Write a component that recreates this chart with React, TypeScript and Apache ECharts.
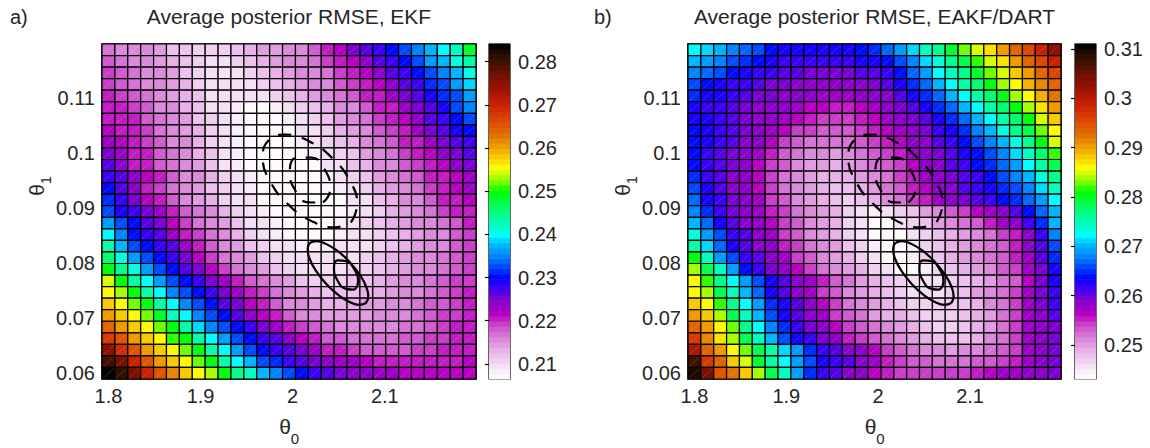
import React, { useEffect, useRef } from "react";
import * as echarts from "echarts";

// ---------------- DATA ----------------
const theta0 = [1.8, 1.814, 1.828, 1.842, 1.856, 1.87, 1.884, 1.898, 1.912, 1.926, 1.94, 1.954, 1.968, 1.982, 1.996, 2.01, 2.024, 2.038, 2.052, 2.066, 2.08, 2.094, 2.108, 2.122, 2.136, 2.15, 2.164, 2.178, 2.192];
// bottom -> top
const theta1 = [0.06, 0.0621, 0.0642, 0.0663, 0.0684, 0.0705, 0.0726, 0.0747, 0.0768, 0.0789, 0.081, 0.0831, 0.0852, 0.0873, 0.0894, 0.0915, 0.0936, 0.0957, 0.0978, 0.0999, 0.102, 0.1041, 0.1062, 0.1083, 0.1104, 0.1125, 0.1146, 0.1167, 0.1188];

// RMSE x 1000, rows from top (theta1 = 0.1188) to bottom (theta1 = 0.06), columns theta0 ascending
const rmseEKF = [
  [217,216,215,215,214,212,212,211,211,211,212,213,214,214,215,216,218,220,222,225,226,228,230,232,235,238,240,242,248],
  [218,217,216,215,214,213,212,211,210,210,211,212,213,214,215,216,217,219,220,222,224,226,228,230,233,236,238,241,244],
  [219,218,217,216,215,214,212,211,210,210,210,211,212,213,214,215,216,217,219,221,222,224,226,228,230,233,235,238,241],
  [219,218,217,216,215,214,213,211,210,209,209,210,211,212,213,214,215,216,218,219,221,222,224,226,228,231,233,236,239],
  [220,219,218,217,216,214,213,212,210,209,209,209,210,211,212,213,214,215,217,218,220,221,223,225,227,229,231,233,236],
  [221,220,219,218,216,215,213,212,210,209,208,207,207,208,209,211,212,213,215,216,218,220,221,223,225,227,229,232,235],
  [221,221,220,218,217,215,214,212,211,209,208,207,207,207,208,210,211,212,214,215,217,219,220,222,224,226,228,230,232],
  [222,221,220,219,217,216,214,213,211,210,208,207,207,207,207,209,210,211,213,214,216,218,219,221,223,225,227,229,230],
  [223,222,221,219,218,216,215,213,211,210,208,207,207,207,207,208,209,211,212,213,215,217,218,220,221,223,225,227,228],
  [225,223,221,220,218,217,215,213,212,210,208,207,207,207,207,207,208,210,211,212,214,216,217,219,220,222,224,225,227],
  [226,224,221,220,218,217,215,214,212,210,208,207,207,207,207,207,207,209,210,212,213,215,216,218,219,221,222,224,225],
  [228,226,224,222,220,218,216,215,213,211,209,208,207,207,207,207,207,208,209,211,212,214,215,217,218,220,221,222,223],
  [230,226,224,221,219,217,216,214,212,211,210,208,207,207,207,207,207,207,208,210,211,213,214,216,217,219,221,222,223],
  [231,228,225,222,220,218,216,214,213,211,210,209,207,207,207,207,207,207,207,209,210,212,213,215,216,218,220,221,222],
  [232,229,228,225,223,221,218,217,216,213,211,209,208,207,207,207,207,207,207,208,209,211,213,214,216,217,219,220,221],
  [236,233,230,227,225,222,219,217,216,214,212,210,209,208,207,207,207,207,208,210,211,212,213,214,215,216,217,218,220],
  [240,235,230,228,226,223,221,219,217,215,213,211,209,208,207,207,207,207,208,209,210,211,212,213,214,215,216,218,219],
  [243,238,233,230,228,226,223,220,218,216,214,212,211,210,209,208,208,208,209,209,210,211,212,213,214,215,216,218,219],
  [246,241,236,233,230,228,225,222,219,217,215,214,212,211,210,209,209,209,210,210,211,212,213,214,215,216,217,218,219],
  [250,245,241,236,233,230,227,225,222,219,217,215,214,212,211,210,210,210,210,211,211,212,213,214,215,216,217,218,219],
  [254,250,243,240,236,233,230,228,225,223,220,218,217,215,214,212,211,211,211,212,212,213,214,215,216,217,218,219,219],
  [256,253,250,243,240,235,233,230,228,225,223,221,219,217,215,214,213,212,212,212,213,213,214,215,216,217,218,219,220],
  [258,255,252,250,243,240,235,232,230,227,225,222,220,218,216,215,214,213,213,213,214,214,215,216,217,218,218,219,220],
  [261,258,255,252,248,242,240,235,232,230,227,224,222,220,218,216,215,214,214,214,214,215,215,216,217,218,219,219,220],
  [264,261,258,255,252,249,243,239,235,233,230,228,225,223,221,219,218,217,216,216,216,216,216,217,217,218,219,220,221],
  [268,265,261,258,255,251,249,243,240,236,233,230,228,226,224,222,220,218,218,217,217,217,217,218,218,219,219,220,221],
  [275,269,265,261,258,255,252,250,243,240,236,233,230,228,227,225,223,221,220,219,218,218,218,218,219,219,220,220,221],
  [280,276,270,265,261,258,255,252,250,244,240,237,233,231,228,227,225,224,223,223,222,221,220,220,220,220,221,221,222],
  [284,281,276,270,265,262,258,255,253,250,245,242,238,235,233,230,228,227,225,224,224,223,223,222,222,222,222,222,222],
];

const rmseDART = [
  [272,271,270,268,267,266,264,263,263,263,263,263,263,264,265,267,269,271,274,277,280,283,285,287,290,293,296,299,303],
  [270,269,268,266,265,264,263,262,262,262,262,262,262,263,263,264,266,268,271,273,276,279,282,285,287,290,293,296,299],
  [268,267,266,264,263,262,262,261,261,260,260,260,260,261,261,262,264,267,269,272,274,277,280,283,285,288,290,293,296],
  [266,264,263,262,262,261,260,260,259,258,258,258,259,259,260,261,263,265,267,270,272,275,278,281,284,286,289,291,294],
  [265,263,263,262,261,260,260,259,258,258,257,257,257,258,258,259,261,263,265,267,270,272,275,278,281,284,286,289,292],
  [263,262,262,261,260,259,258,258,257,256,256,255,255,256,257,258,260,261,263,265,267,270,272,275,278,281,284,287,290],
  [263,263,262,261,260,259,258,257,256,255,254,254,254,255,256,257,258,260,261,263,265,267,270,272,275,278,281,285,288],
  [264,263,262,261,260,259,257,256,254,254,253,253,253,254,255,256,257,259,260,262,263,265,268,270,273,276,279,283,286],
  [264,263,262,261,259,258,256,254,253,252,252,252,252,253,254,255,256,258,259,261,262,264,266,268,270,273,277,281,285],
  [264,262,261,260,258,257,255,253,252,251,251,250,251,252,253,254,255,257,258,260,261,263,264,266,268,271,274,278,282],
  [264,262,261,260,258,256,254,253,251,250,250,249,250,251,252,253,254,256,258,259,261,262,264,265,267,269,272,275,279],
  [265,262,261,259,258,256,254,252,251,250,249,249,249,250,251,252,254,255,257,258,260,261,262,264,266,268,270,273,277],
  [266,263,261,259,258,256,254,252,251,250,249,248,248,249,250,252,253,255,256,258,259,261,262,263,265,266,268,271,274],
  [267,263,262,260,258,257,254,253,251,250,249,248,247,248,249,251,252,254,255,257,258,260,261,262,264,265,267,269,272],
  [268,265,262,260,258,257,255,254,252,251,250,249,247,246,245,246,247,248,250,251,253,254,256,257,259,261,264,267,270],
  [270,267,263,261,259,258,256,254,253,251,250,249,247,246,243,243,246,247,248,250,251,252,253,255,257,259,262,265,270],
  [273,269,266,262,261,259,257,254,253,251,250,249,247,246,243,243,243,246,247,248,249,250,251,252,254,255,258,262,268],
  [275,271,267,263,261,259,258,255,254,252,251,250,248,247,245,243,243,245,247,248,249,250,251,252,253,255,258,261,266],
  [281,274,269,266,262,261,259,257,254,253,251,250,249,247,246,243,243,245,247,248,249,250,251,252,253,255,257,261,265],
  [284,279,274,269,264,262,260,258,256,254,252,251,250,249,247,246,244,244,245,247,248,249,250,251,253,254,257,260,263],
  [286,282,276,272,269,266,263,261,259,257,255,253,252,250,249,248,247,246,246,246,247,248,249,250,252,253,256,260,263],
  [286,284,279,274,270,267,263,261,259,257,254,253,251,250,249,248,247,246,246,246,247,248,250,251,252,254,257,260,262],
  [288,286,282,276,272,269,265,263,261,259,256,254,252,251,250,249,248,247,247,247,247,248,249,251,252,254,257,260,262],
  [290,288,284,279,274,270,266,263,261,259,257,254,253,252,250,249,249,248,247,247,247,248,249,250,252,254,257,259,261],
  [293,290,286,283,277,272,268,265,262,260,258,256,254,253,252,251,250,249,248,247,247,248,249,250,252,254,257,259,260],
  [297,291,287,284,279,274,270,266,263,262,260,258,255,254,253,252,251,250,249,248,248,248,249,251,252,254,257,259,260],
  [301,294,290,286,283,279,275,271,269,265,262,261,259,258,256,254,253,252,251,251,250,251,251,252,253,254,257,258,260],
  [307,297,293,288,285,280,275,272,269,266,263,262,261,259,257,255,254,253,253,252,252,252,253,253,254,255,257,259,260],
  [309,304,295,292,288,284,279,274,269,265,262,261,259,258,256,255,254,254,254,254,254,254,255,256,257,257,259,259,260],
];

const ekfRange = [0.2065, 0.2841];
const dartRange = [0.2431, 0.311];
const ekfTicks = [0.21, 0.22, 0.23, 0.24, 0.25, 0.26, 0.27, 0.28];
const dartTicks = [0.25, 0.26, 0.27, 0.28, 0.29, 0.3, 0.31];
const xTicks = [1.8, 1.9, 2.0, 2.1];
const yTicks = [0.06, 0.07, 0.08, 0.09, 0.1, 0.11];

// posterior contours (theta0, theta1)
const dashedOuter = [
  [2.0641, 0.08762], [2.07, 0.09069], [2.0624, 0.09489], [2.0429, 0.09912], [2.0171, 0.10223], [1.9917, 0.10338],
  [1.9735, 0.10227], [1.9676, 0.0992], [1.9752, 0.095], [1.9947, 0.09076], [2.0205, 0.08765], [2.0459, 0.08651], [2.0641, 0.08762],
];
const dashedInner = [
  [2.0329, 0.09103], [2.0407, 0.0934], [2.0357, 0.09676], [2.0208, 0.09918], [2.0047, 0.09922], [1.9969, 0.09685],
  [2.0019, 0.09349], [2.0169, 0.09107], [2.0329, 0.09103],
];
const solidOuter = [
  [2.0796, 0.07276], [2.0821, 0.07395], [2.0797, 0.07576], [2.0725, 0.07796], [2.0619, 0.0802], [2.0493, 0.08215],
  [2.0367, 0.08347], [2.0261, 0.08402], [2.0188, 0.08367], [2.0163, 0.08249], [2.0187, 0.08067], [2.0259, 0.07847],
  [2.0365, 0.07624], [2.0491, 0.07429], [2.0617, 0.07296], [2.0723, 0.07242], [2.0796, 0.07276],
];
const solidInner = [
  [2.0671, 0.07518], [2.071, 0.0766], [2.0673, 0.07876], [2.058, 0.08038], [2.0487, 0.08053], [2.0448, 0.07911],
  [2.0484, 0.07695], [2.0578, 0.07533], [2.0671, 0.07518],
];

// ---------------- STYLE ----------------
const colormapStops: [number, string][] = [
  [0.0, "#ffffff"], [0.025, "#f8ecf8"], [0.05, "#f0d4f0"], [0.075, "#ecbcec"], [0.095, "#e4a4e4"], [0.115, "#dc8cdc"],
  [0.135, "#d470d4"], [0.155, "#cc50cc"], [0.175, "#c428c4"], [0.19, "#c000c0"], [0.21, "#a000c8"], [0.24, "#8000d0"], [0.26, "#5000e8"],
  [0.28, "#3000ff"], [0.3, "#0000ff"], [0.33, "#0040ff"], [0.365, "#0080ff"], [0.4, "#00b8ff"], [0.43, "#00ffff"],
  [0.46, "#00ffc0"], [0.5, "#00ff80"], [0.56, "#00ff00"], [0.59, "#80ff00"], [0.61, "#c0ff00"], [0.63, "#ffff00"],
  [0.66, "#f8d000"], [0.69, "#f0a000"], [0.73, "#e07000"], [0.77, "#e04800"], [0.82, "#c82000"], [0.88, "#901000"],
  [0.92, "#601000"], [0.96, "#301000"], [1.0, "#000000"],
];
const LEVELS = 64;
const FONT = "'Liberation Sans', Arial, Helvetica, sans-serif";
const TXT = "#262626";

function hexToRgb(h: string) {
  return [parseInt(h.slice(1, 3), 16), parseInt(h.slice(3, 5), 16), parseInt(h.slice(5, 7), 16)];
}
function sampleMap(f: number) {
  for (let i = 1; i < colormapStops.length; i++) {
    const [f1, c1] = colormapStops[i];
    const [f0, c0] = colormapStops[i - 1];
    if (f <= f1) {
      const t = (f - f0) / (f1 - f0);
      const a = hexToRgb(c0), b = hexToRgb(c1);
      return `rgb(${a.map((v, k) => Math.round(v + (b[k] - v) * t)).join(",")})`;
    }
  }
  return "#000";
}
const lut: string[] = [];
for (let k = 0; k < LEVELS; k++) lut.push(sampleMap((k + 0.5) / LEVELS));
function colorFor(v: number, range: number[]) {
  const f = (v - range[0]) / (range[1] - range[0]);
  const k = Math.max(0, Math.min(LEVELS - 1, Math.floor(f * LEVELS)));
  return lut[k];
}

const dx = theta0[1] - theta0[0];
const dy = theta1[1] - theta1[0];
const xMin = theta0[0] - dx / 2;
const xMax = theta0[theta0.length - 1] + dx / 2;
const yMin = theta1[0] - dy / 2;
const yMax = theta1[theta1.length - 1] + dy / 2;
const fmt = (v: any) => String(+Number(v).toFixed(2));

function cellData(rows: number[][]) {
  const out: number[][] = [];
  const n = rows.length;
  rows.forEach((row, r) => row.forEach((v, c) => out.push([theta0[c], theta1[n - 1 - r], v / 1000])));
  return out;
}

function buildPanel(i: number, cfg: any) {
  const gPlot = i * 2, gBar = i * 2 + 1;
  const grids = [
    { left: cfg.plotLeft, top: 44, width: cfg.plotWidth, height: 335, show: true, borderColor: "#000", borderWidth: 1.5, backgroundColor: "transparent" },
    { left: cfg.barLeft, top: 44, width: 21, height: 335, show: true, borderColor: "#000", borderWidth: 1.2, backgroundColor: "transparent" },
  ];
  const label = { fontSize: 20, color: TXT, fontFamily: FONT };
  const xAxes = [
    {
      type: "value", gridIndex: gPlot, min: xMin, max: xMax,
      axisLine: { show: false }, splitLine: { show: false },
      axisTick: { show: true, inside: true, length: 5, customValues: xTicks, lineStyle: { color: "#000" } },
      axisLabel: { ...label, margin: 7, customValues: xTicks, formatter: fmt },
    },
    { type: "value", gridIndex: gBar, min: 0, max: 1, show: false },
  ];
  const yAxes = [
    {
      type: "value", gridIndex: gPlot, min: yMin, max: yMax,
      axisLine: { show: false }, splitLine: { show: false },
      axisTick: { show: true, inside: true, length: 5, customValues: yTicks, lineStyle: { color: "#000" } },
      axisLabel: { ...label, margin: 7, customValues: yTicks, formatter: fmt },
    },
    {
      type: "value", gridIndex: gBar, min: cfg.range[0], max: cfg.range[1], position: "right",
      axisLine: { show: false }, splitLine: { show: false },
      axisTick: { show: true, inside: true, length: 4, customValues: cfg.ticks, lineStyle: { color: "#000", width: 1.2 } },
      axisLabel: { ...label, margin: 8, customValues: cfg.ticks, formatter: fmt },
    },
    {
      type: "value", gridIndex: gBar, min: cfg.range[0], max: cfg.range[1], position: "left",
      axisLine: { show: false }, splitLine: { show: false },
      axisTick: { show: true, inside: true, length: 4, customValues: cfg.ticks, lineStyle: { color: "#000", width: 1.2 } },
      axisLabel: { show: false },
    },
  ];
  const xi = i * 2, yi = i * 3;
  const series: any[] = [
    {
      type: "custom", xAxisIndex: xi, yAxisIndex: yi, silent: true, z: 2,
      data: cellData(cfg.values), encode: { x: 0, y: 1 },
      renderItem: (_p: any, api: any) => {
        const x = api.value(0), y = api.value(1), v = api.value(2);
        const p0 = api.coord([x - dx / 2, y + dy / 2]);
        const p1 = api.coord([x + dx / 2, y - dy / 2]);
        return {
          type: "group",
          children: [
            { type: "rect", shape: { x: p0[0], y: p0[1], width: p1[0] - p0[0], height: p1[1] - p0[1] }, style: { fill: colorFor(v, cfg.range), stroke: "#000", lineWidth: 1.2 } },
            { type: "line", shape: { x1: p0[0] + 1.2, y1: p1[1] - 1.2, x2: p1[0] - 1.2, y2: p0[1] + 1.2 }, style: { stroke: "rgba(255,255,255,0.28)", lineWidth: 0.5 } },
          ],
        };
      },
    },
    {
      type: "custom", xAxisIndex: xi + 1, yAxisIndex: yi + 1, silent: true, z: 2,
      data: lut.map((_, k) => [k]),
      renderItem: (_p: any, api: any) => {
        const k = api.value(0);
        const step = (cfg.range[1] - cfg.range[0]) / LEVELS;
        const a = api.coord([0, cfg.range[0] + (k + 1) * step]);
        const b = api.coord([1, cfg.range[0] + k * step]);
        return { type: "rect", shape: { x: a[0], y: a[1] - 0.3, width: b[0] - a[0], height: b[1] - a[1] + 0.6 }, style: { fill: lut[k] } };
      },
    },
  ];
  const lineSer = (d: number[][], dashed: boolean) => ({
    type: "line", xAxisIndex: xi, yAxisIndex: yi, data: d, smooth: 0.5, showSymbol: false, silent: true, z: 5,
    lineStyle: { color: "#000", width: 2.2, type: dashed ? [13, 11] : "solid" },
  });
  series.push(lineSer(dashedOuter, true), lineSer(dashedInner, true), lineSer(solidOuter, false), lineSer(solidInner, false));

  const cx = cfg.plotLeft + cfg.plotWidth / 2;
  const t = (text: string, x: number, y: number, size: number, align = "center", rot = 0) => ({
    type: "text", x, y, rotation: rot, silent: true,
    style: { text, fontSize: size, fontFamily: FONT, fill: TXT, align, verticalAlign: "middle", textAlign: align, textVerticalAlign: "middle" },
  });
  const graphics = [
    t(cfg.letter, cfg.letterX, 17, 20, "left"),
    t(cfg.title, cx, 16, 21, "center"),
    t("θ", cx - 4, 426, 21, "center"),
    t("0", cx + 6, 438, 15, "center"),
    t("θ", cfg.plotLeft - 66, 190, 21, "center", Math.PI / 2),
    t("1", cfg.plotLeft - 57, 180, 15, "center", Math.PI / 2),
  ];
  return { grids, xAxes, yAxes, series, graphics };
}

const panels = [
  buildPanel(0, { plotLeft: 102, plotWidth: 374, barLeft: 489, values: rmseEKF, range: ekfRange, ticks: ekfTicks, title: "Average posterior RMSE, EKF", letter: "a)", letterX: 10 }),
  buildPanel(1, { plotLeft: 688, plotWidth: 373, barLeft: 1075, values: rmseDART, range: dartRange, ticks: dartTicks, title: "Average posterior RMSE, EAKF/DART", letter: "b)", letterX: 594 }),
];

const option: any = {
  animation: false,
  backgroundColor: "#ffffff",
  grid: panels.flatMap((p) => p.grids),
  xAxis: panels.flatMap((p) => p.xAxes),
  yAxis: panels.flatMap((p) => p.yAxes),
  series: panels.flatMap((p) => p.series),
  graphic: panels.flatMap((p) => p.graphics),
};

export default function App() {
  const ref = useRef<HTMLDivElement>(null);
  useEffect(() => {
    const chart = echarts.init(ref.current!, null, { renderer: "svg" });
    chart.setOption(option);
    return () => chart.dispose();
  }, []);
  return <div ref={ref} style={{ position: "absolute", left: 0, top: 0, width: 1150, height: 448 }} />;
}
